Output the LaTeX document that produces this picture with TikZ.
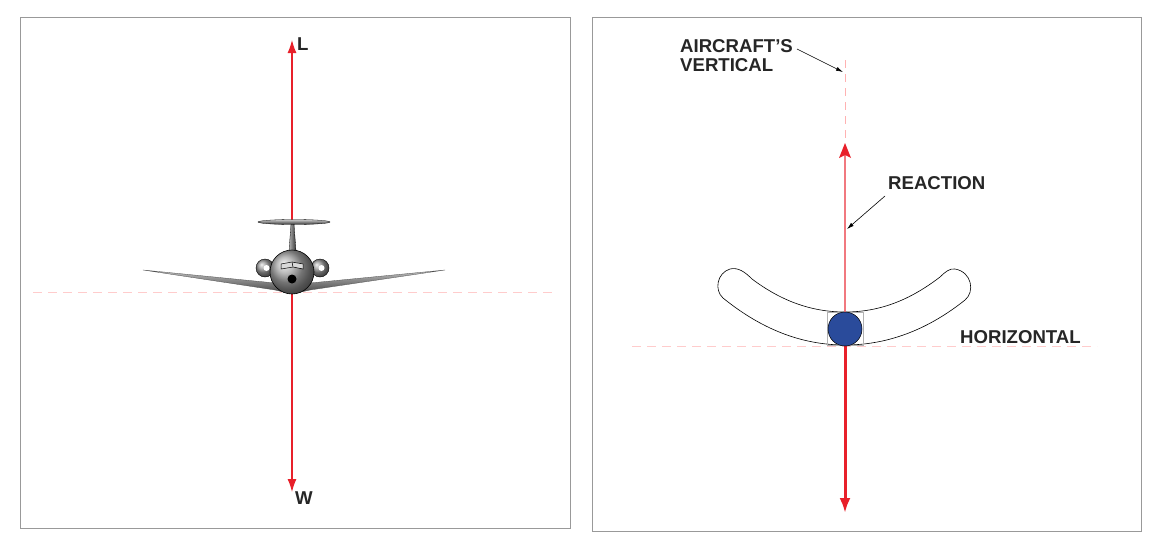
\documentclass[tikz,border=0pt]{standalone}
\usepackage{fontspec}
\setmainfont{Liberation Sans}
\usetikzlibrary{arrows.meta}
\definecolor{fred}{HTML}{E8202A}
\definecolor{fblue}{HTML}{2A4B9B}
\begin{document}
\begin{tikzpicture}[x=1pt,y=-1pt,
 panel/.style={draw=black!40,line width=0.8pt},
 force/.style={draw=fred,line width=1.2pt,-{Latex[length=13pt,width=9pt]}},
 lbl/.style={font=\bfseries\fontsize{18.6}{19.5}\selectfont,align=left,inner sep=0pt,text=black!85},
 guide/.style={draw=red!20,dash pattern=on 9pt off 6pt,line width=0.6pt},
 pointer/.style={draw=black,line width=0.6pt,-{Latex[length=7pt,width=4pt]}}]
\useasboundingbox (0,0) rectangle (1161,554);
\fill[white] (0,0) rectangle (1161,554);
% panels
\draw[panel] (20,17) rectangle (570,528);
\draw[panel] (592,17) rectangle (1141,531);
% ---- left panel
\draw[guide] (33,292) -- (556,292);
\coordinate (c) at (292,272);
\coordinate (top) at (292,40);
\coordinate (bot) at (292,492);
\draw[force] (292,288) -- (top);
\draw[force] (292,292) -- (bot);
% wings
\shade[top color=black!25,bottom color=black!75,draw=black!70,line width=0.3pt]
 (143,270) -- (275,283) -- (292,293) -- (310,283) -- (445,270) -- (310,290) -- (292,294) -- (275,290) -- cycle;
% tail
\shade[left color=black!30,right color=black!80,draw=black,line width=0.3pt]
 (289,251) -- (291,224) -- (294,224) -- (296,251) -- cycle;
\shade[top color=black!20,bottom color=black!80,draw=black,line width=0.3pt] (294,222) ellipse (36 and 2.5);
% engines
\foreach \ex in {265,320}{
 \shade[ball color=black!40,draw=black] (\ex,268) circle (9);
 \fill[white] (\ex+1.5,268) circle (3);}
% fuselage
\shade[ball color=black!35,draw=black,line width=0.6pt] (c) circle (22);
\draw[fill=black!15,line width=0.5pt] (281,264) -- (292,262) -- (303,264) -- (303,269) -- (293,267) -- (281,269) -- cycle;
\draw[line width=0.5pt] (292,262) -- (293,267);
\fill[black] (292,279) circle (4.5);
\node[lbl,anchor=west] (L) at (297,44) {L};
\node[lbl,anchor=west] (W) at (295,498) {W};
% ---- right panel
\draw[guide] (632,346) -- (1097,346);
\coordinate (rb) at (845,345);
\coordinate (rt) at (845,143);
\coordinate (rd) at (845,513);
\draw[draw=red!30,dash pattern=on 8pt off 6pt,line width=0.6pt] (845,60) -- (845,140);
% bowl
\draw[line width=0.6pt,fill=white]
 (723,298) .. controls (760,328) and (800,345) .. (845,345)
 .. controls (890,345) and (930,328) .. (965,300)
 .. controls (975,292) and (972,272) .. (955,269)
 .. controls (950,268) and (945,272) .. (940,277)
 .. controls (910,300) and (880,312) .. (845,312)
 .. controls (810,312) and (780,300) .. (752,279)
 .. controls (745,272) and (738,267) .. (730,269)
 .. controls (717,273) and (714,290) .. (723,298) -- cycle;
\draw[black!30,line width=0.4pt] (827,312) rectangle (863,345);
\draw[draw=fred!60,line width=1.2pt] (845,312) -- (845,150);
\fill[fred] (845,143) -- (839,158) -- (845,155) -- (851,158) -- cycle;
\draw[draw=fred,line width=3pt,-{Latex[length=15pt,width=11pt]}] (rb) -- (rd);
\node[circle,fill=fblue,draw=black,line width=0.5pt,minimum size=34pt,inner sep=0pt] (ball) at (845,329) {};
\node[lbl,anchor=north west] (av) at (680,39) {AIRCRAFT’S\\VERTICAL};
\coordinate (avt) at (843,72);
\draw[pointer] (797,49) -- (avt);
\node[lbl,anchor=west] (re) at (888,183) {REACTION};
\coordinate (ret) at (847,229);
\draw[pointer] (885,196) -- (ret);
\node[lbl,anchor=west] (ho) at (960,337) {HORIZONTAL};
\end{tikzpicture}
\end{document}
